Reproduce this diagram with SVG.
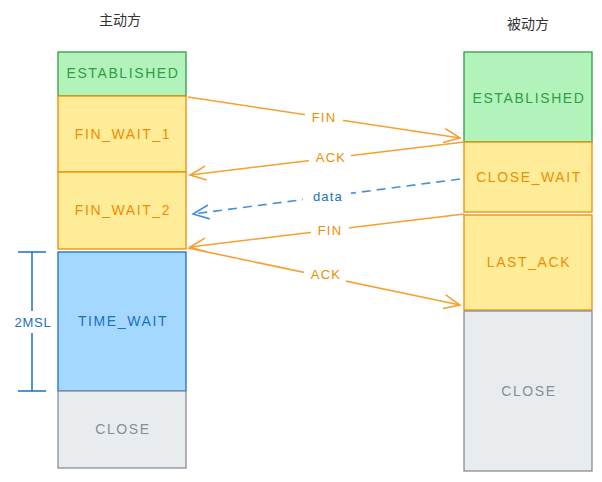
<svg xmlns="http://www.w3.org/2000/svg" width="602" height="482" viewBox="0 0 602 482">
<defs>
<style>
.t{font-family:"Liberation Sans","Noto Sans",sans-serif;font-size:14px;text-anchor:middle;dominant-baseline:central;letter-spacing:1.6px}
.g rect{fill:#b2f2bb;stroke:#2f9e44;stroke-width:1.3}
.g text{fill:#2f9e44}
.y rect{fill:#ffec99;stroke:#f08c00;stroke-width:1.3}
.y text{fill:#f08c00}
.b rect{fill:#a5d8ff;stroke:#1971c2;stroke-width:1.3}
.b text{fill:#1971c2}
.c rect{fill:#e9ecef;stroke:#868e96;stroke-width:1.3}
.c text{fill:#868e96}
.title{font-family:"Noto Sans CJK SC","Noto Sans",sans-serif;font-size:14px;fill:#333;text-anchor:middle;dominant-baseline:central}
.a{stroke:#f5a030;stroke-width:1.6;fill:none}
.d{stroke:#4a90d9;stroke-width:1.6;fill:none;stroke-dasharray:9 6}
.lb{font-family:"Liberation Sans","Noto Sans",sans-serif;font-size:13px;text-anchor:middle;dominant-baseline:central;letter-spacing:1.2px}
</style>
<marker id="ah" viewBox="0 0 20 20" refX="18" refY="10" markerWidth="20" markerHeight="20" markerUnits="userSpaceOnUse" orient="auto">
<path d="M2,3 L18,10 L2,17" fill="none" stroke="#f5a030" stroke-width="1.6"/>
</marker>
<marker id="ahb" viewBox="0 0 20 20" refX="18" refY="10" markerWidth="20" markerHeight="20" markerUnits="userSpaceOnUse" orient="auto">
<path d="M2,3 L18,10 L2,17" fill="none" stroke="#4a90d9" stroke-width="1.6"/>
</marker>
</defs>
<rect width="602" height="482" fill="#fff"/>
<text class="title" x="120" y="19">主动方</text>
<text class="title" x="528" y="23">被动方</text>

<g id="l-established" class="g"><rect x="58" y="52" width="128" height="44"/><text class="t" x="123" y="73">ESTABLISHED</text></g>
<g id="l-finwait1" class="y"><rect x="58" y="96" width="128" height="76"/><text class="t" x="123" y="134">FIN_WAIT_1</text></g>
<g id="l-finwait2" class="y"><rect x="58" y="172" width="128" height="77"/><text class="t" x="123" y="210">FIN_WAIT_2</text></g>
<g id="l-timewait" class="b"><rect x="58" y="252" width="128" height="139"/><text class="t" x="123" y="321">TIME_WAIT</text></g>
<g id="l-close" class="c"><rect x="58" y="391" width="128" height="77"/><text class="t" x="123" y="429">CLOSE</text></g>

<g id="r-established" class="g"><rect x="464" y="52" width="128" height="90"/><text class="t" x="529" y="98">ESTABLISHED</text></g>
<g id="r-closewait" class="y"><rect x="464" y="142" width="128" height="70"/><text class="t" x="529" y="177">CLOSE_WAIT</text></g>
<g id="r-lastack" class="y"><rect x="464" y="215" width="128" height="95"/><text class="t" x="529" y="262">LAST_ACK</text></g>
<g id="r-close" class="c"><rect x="464" y="311" width="128" height="160"/><text class="t" x="529" y="391">CLOSE</text></g>

<g id="msl">
<path d="M32,252 V311 M32,333 V391 M18,252 H46 M18,391 H46" stroke="#1971c2" stroke-width="1.5" fill="none"/>
<text class="t" x="33" y="322" fill="#1971c2" style="font-size:13px;letter-spacing:0.8px">2MSL</text>
</g>

<g id="connectors">
<path class="a" d="M188,97 L460,138" marker-end="url(#ah)"/>
<path class="a" d="M464,142 L190,175" marker-end="url(#ah)"/>
<path class="d" d="M460,179 L193,214" marker-end="url(#ahb)"/>
<path class="a" d="M464,214 L190,247" marker-end="url(#ah)"/>
<path class="a" d="M188,248 L460,305" marker-end="url(#ah)"/>
<rect x="305" y="109" width="38" height="16" fill="#fff"/>
<text class="lb" x="324" y="117" fill="#f08c00">FIN</text>
<rect x="309" y="149" width="42" height="16" fill="#fff"/>
<text class="lb" x="331" y="157" fill="#f08c00">ACK</text>
<rect x="303" y="188" width="48" height="16" fill="#fff"/>
<text class="lb" x="328" y="196" fill="#1971c2">data</text>
<rect x="311" y="222" width="38" height="16" fill="#fff"/>
<text class="lb" x="330" y="230" fill="#f08c00">FIN</text>
<rect x="304" y="266" width="42" height="16" fill="#fff"/>
<text class="lb" x="326" y="274" fill="#f08c00">ACK</text>
</g>
</svg>
